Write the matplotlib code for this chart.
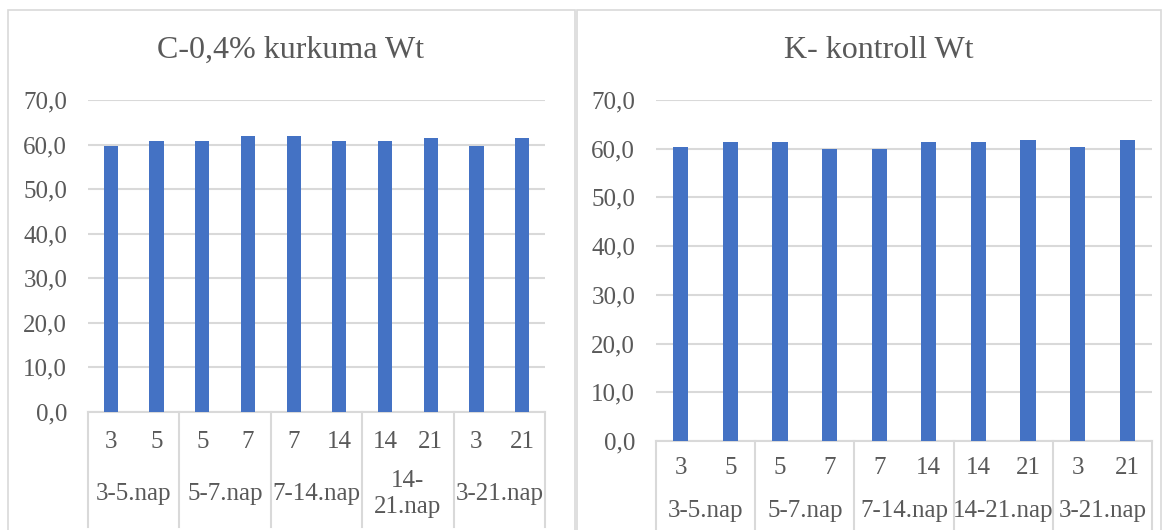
import matplotlib.pyplot as plt
from matplotlib.patches import Rectangle
from matplotlib.transforms import blended_transform_factory

plt.rcParams['font.family'] = ['Liberation Serif', 'DejaVu Serif']

# adatok
napok = ['3', '5', '5', '7', '7', '14', '14', '21', '3', '21']
csoportok_bal = ['3-5.nap', '5-7.nap', '7-14.nap', '14-\n21.nap', '3-21.nap']
csoportok_jobb = ['3-5.nap', '5-7.nap', '7-14.nap', '14-21.nap', '3-21.nap']
kurkuma = [59.6, 60.8, 60.8, 62.0, 62.0, 60.7, 60.7, 61.5, 59.6, 61.5]
kontroll = [60.4, 61.3, 61.3, 59.9, 59.9, 61.4, 61.4, 61.8, 60.4, 61.8]
y_ticks = [0, 10, 20, 30, 40, 50, 60, 70]

KEK = '#4472C4'
RACS = '#D9D9D9'
SZOVEG = '#595959'

W, H = 1169, 530
fig = plt.figure(figsize=(W / 100, H / 100), dpi=100)


def px(x0, y0, x1, y1):
    # pixel koordinatak -> figure koordinatak
    return [x0 / W, 1 - y1 / H, (x1 - x0) / W, (y1 - y0) / H]


def panel(rect, ertekek, csoportok, szam_y, csop_y, also):
    ax = fig.add_axes(rect)
    x = list(range(len(ertekek)))
    ax.bar(x, ertekek, width=0.31, color=KEK, zorder=3)
    ax.set_xlim(-0.5, len(ertekek) - 0.5)
    ax.set_ylim(0, 70)
    ax.set_yticks(y_ticks)
    ax.set_yticklabels([f'{v:.1f}'.replace('.', ',') for v in y_ticks])
    ax.yaxis.grid(True, color=RACS, linewidth=1.5, zorder=0)
    ax.tick_params(axis='y', length=0, labelsize=18, labelcolor=SZOVEG, pad=15)
    ax.set_xticks([])
    for s in ['top', 'right', 'left']:
        ax.spines[s].set_visible(False)
    ax.spines['bottom'].set_color(RACS)
    ax.spines['bottom'].set_linewidth(1.5)

    tr = blended_transform_factory(ax.transData, fig.transFigure)
    for i, n in enumerate(napok):
        ax.text(i, 1 - szam_y / H, n, transform=tr, ha='center', va='center',
                fontsize=18, color=SZOVEG)
    for g, c in enumerate(csoportok):
        ax.text(2 * g + 0.5, 1 - csop_y / H, c, transform=tr, ha='center',
                va='center', fontsize=18, color=SZOVEG, linespacing=1.25)
    for g in range(len(csoportok) + 1):
        ax.plot([2 * g - 0.5, 2 * g - 0.5], [ax.get_position().y0, 1 - also / H],
                transform=tr, color=RACS, linewidth=1.5, clip_on=False)
    return ax


# keretek
fig.add_artist(Rectangle((7.5 / W, -0.1), (575 - 7.5) / W, 1.1 - 10 / H,
                         transform=fig.transFigure, fill=False, edgecolor=RACS, linewidth=1.2))
fig.add_artist(Rectangle((576.5 / W, -0.1), 0.5, 1.1 - 10 / H,
                         transform=fig.transFigure, fill=False, edgecolor=RACS, linewidth=1.2))

panel(px(88, 100, 545, 412), kurkuma, csoportok_bal, 442, 494, 527)
panel(px(656, 100, 1152, 441), kontroll, csoportok_jobb, 468, 511, 530)

fig.text(291 / W, 1 - 50 / H, 'C-0,4% kurkuma Wt', ha='center', va='center',
         fontsize=23, color=SZOVEG)
fig.text(879 / W, 1 - 50 / H, 'K- kontroll Wt', ha='center', va='center',
         fontsize=23, color=SZOVEG)

fig.savefig('out.png', dpi=100, facecolor='white')
